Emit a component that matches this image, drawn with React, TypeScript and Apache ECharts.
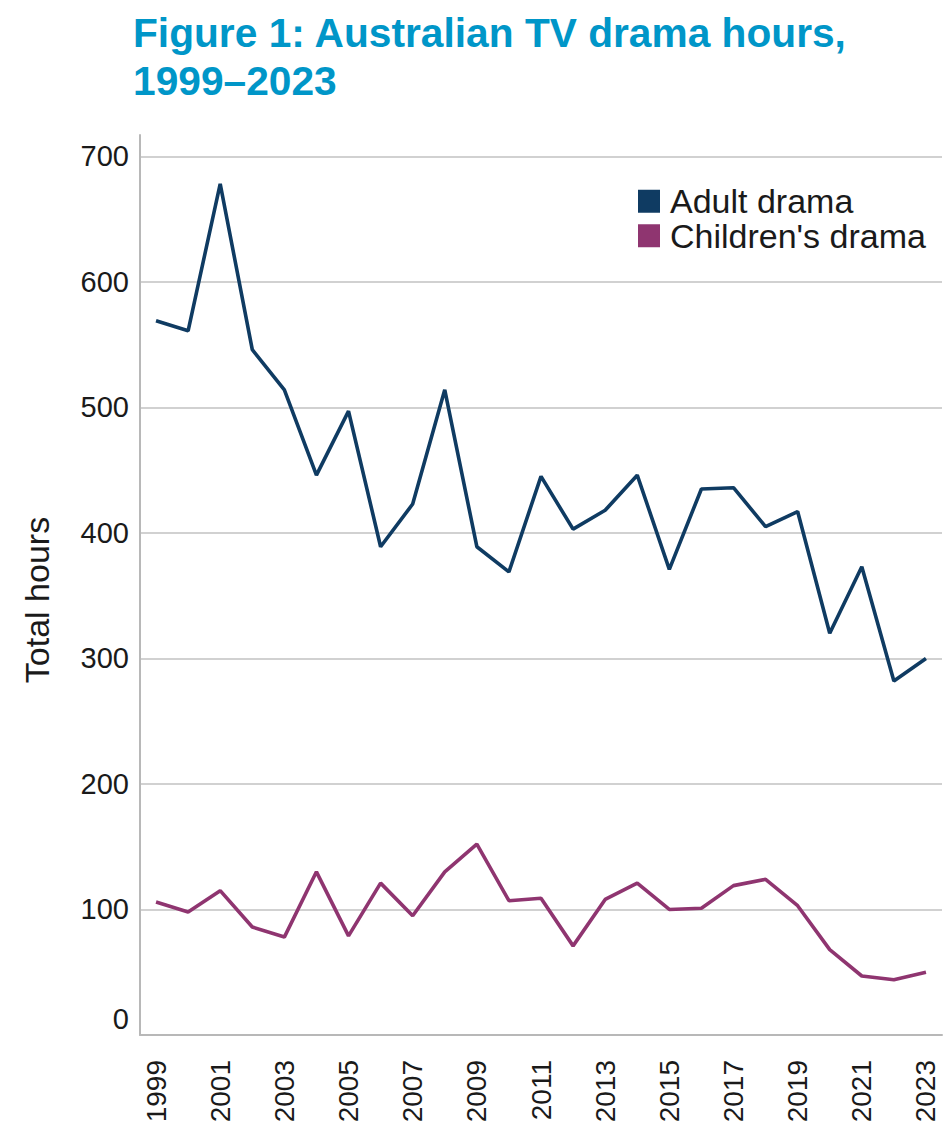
import React, { useEffect, useRef } from "react";
import * as echarts from "echarts";

const years = [
  "1999", "2000", "2001", "2002", "2003", "2004", "2005", "2006", "2007", "2008",
  "2009", "2010", "2011", "2012", "2013", "2014", "2015", "2016", "2017", "2018",
  "2019", "2020", "2021", "2022", "2023",
];

const adultDrama = [
  569, 561, 678, 546, 514, 446, 497, 389, 423, 514,
  389, 369, 445, 403, 418, 446, 371, 435, 436, 405,
  417, 320, 373, 282, 300,
];

const childrensDrama = [
  106, 98, 115, 86, 78, 130, 79, 121, 95, 130,
  152, 107, 109, 71, 108, 121, 100, 101, 119, 124,
  103, 68, 47, 44, 50,
];

const seriesNames = ["Adult drama", "Children's drama"];
const seriesColors = ["#0f3b62", "#8f3570"];
const titleText = "Figure 1: Australian TV drama hours,\n1999–2023";
const yAxisName = "Total hours";

const FONT = "'Liberation Sans', Arial, Helvetica, sans-serif";

export default function App() {
  const ref = useRef<HTMLDivElement>(null);

  useEffect(() => {
    if (!ref.current) return;
    const chart = echarts.init(ref.current, undefined, { renderer: "svg" });
    chart.setOption({
      animation: false,
      backgroundColor: "#ffffff",
      textStyle: { fontFamily: FONT },
      title: {
        text: titleText,
        left: 133,
        top: 9,
        padding: 0,
        textStyle: {
          fontFamily: FONT,
          fontSize: 40.7,
          fontWeight: "bold",
          color: "#0096c8",
          lineHeight: 48,
        },
      },
      legend: {
        orient: "vertical",
        left: 638,
        top: 184,
        padding: 0,
        icon: "rect",
        itemWidth: 22,
        itemHeight: 23,
        itemGap: 0,
        data: seriesNames,
        textStyle: {
          fontFamily: FONT,
          fontSize: 34,
          lineHeight: 34.5,
          color: "#1a1a1a",
          padding: [0, 0, 0, 5],
        },
      },
      graphic: [
        {
          type: "text",
          x: 37,
          y: 600,
          rotation: Math.PI / 2,
          style: {
            text: yAxisName,
            fontFamily: FONT,
            fontSize: 34,
            fill: "#1a1a1a",
            align: "center",
            verticalAlign: "middle",
          },
        },
      ],
      grid: { left: 140, top: 135, width: 802, height: 900, containLabel: false },
      xAxis: {
        type: "category",
        data: years,
        boundaryGap: true,
        axisLine: { show: true, lineStyle: { color: "#b8b8b8", width: 2 } },
        axisTick: { show: false },
        axisLabel: {
          interval: 1,
          rotate: 90,
          margin: 25,
          fontFamily: FONT,
          fontSize: 28,
          color: "#1a1a1a",
        },
        splitLine: { show: false },
      },
      yAxis: {
        type: "value",
        min: 0,
        max: 717,
        interval: 100,
        axisLine: { show: true, lineStyle: { color: "#b8b8b8", width: 2 } },
        axisTick: { show: false },
        axisLabel: {
          margin: 11,
          fontFamily: FONT,
          fontSize: 29,
          color: "#1a1a1a",
          showMaxLabel: false,
          formatter: (v: number) => (v === 0 ? "{z|0}" : String(v)),
          rich: {
            z: { fontFamily: FONT, fontSize: 29, color: "#1a1a1a", padding: [0, 0, 32, 0] },
          },
        },
        splitLine: {
          show: true,
          showMaxLine: false,
          lineStyle: { color: "#c2c2c2", width: 1.5 },
        },
      },
      series: [
        {
          name: seriesNames[0],
          type: "line",
          data: adultDrama,
          symbol: "none",
          color: seriesColors[0],
          lineStyle: { color: seriesColors[0], width: 3.6 },
        },
        {
          name: seriesNames[1],
          type: "line",
          data: childrensDrama,
          symbol: "none",
          color: seriesColors[1],
          lineStyle: { color: seriesColors[1], width: 3.6 },
        },
      ],
    });
    return () => chart.dispose();
  }, []);

  return (
    <div
      ref={ref}
      style={{ position: "absolute", left: 0, top: 0, width: 948, height: 1134 }}
    />
  );
}
